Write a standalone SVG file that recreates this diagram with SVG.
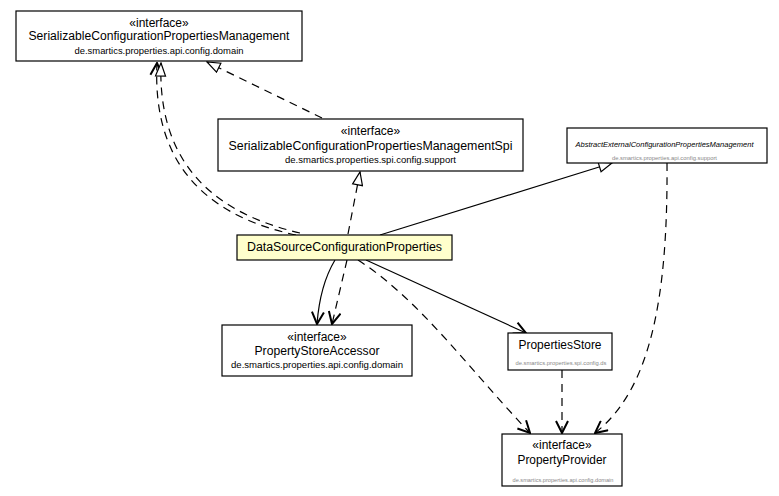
<svg xmlns="http://www.w3.org/2000/svg" width="779" height="496" viewBox="0 0 779 496">
<style>
.box{fill:#ffffff;stroke:#000;stroke-width:1.2}
.cls{fill:#ffffcc;stroke:#000;stroke-width:1.2}
.t{font-family:"Liberation Sans",Arial,sans-serif;font-size:12px;fill:#000;text-anchor:middle}
.p{font-family:"Liberation Sans",Arial,sans-serif;font-size:9px;fill:#000;text-anchor:middle}
.g{font-family:"Liberation Sans",Arial,sans-serif;font-size:5.5px;fill:#888;text-anchor:middle}
.i{font-family:"Liberation Sans",Arial,sans-serif;font-size:7.5px;font-style:italic;fill:#000;text-anchor:middle}
.c{fill:none;stroke:#000;stroke-width:1.2}
.d{stroke-dasharray:8,6}
</style>
<defs>
<marker id="tri" viewBox="0 0 15 12" refX="14" refY="6" markerWidth="15" markerHeight="12" markerUnits="userSpaceOnUse" orient="auto">
<path d="M1,1 L14,6 L1,11 Z" fill="#fff" stroke="#000" stroke-width="1.2"/>
</marker>
<marker id="arr" viewBox="0 0 14 14" refX="13" refY="7" markerWidth="14" markerHeight="14" markerUnits="userSpaceOnUse" orient="auto">
<path d="M1,1 L13,7 L1,13" fill="none" stroke="#000" stroke-width="2"/>
</marker>
</defs>
<g id="connectors">
<path class="c d" d="M322,118 L207,62" marker-end="url(#tri)"/>
<path class="c d" d="M296,235 Q150,204 157,63" marker-end="url(#arr)"/>
<path class="c d" d="M300,233 Q156,200 161,63" marker-end="url(#tri)"/>
<path class="c d" d="M348,234 L360,172" marker-end="url(#tri)"/>
<path class="c" d="M380,235 L612,163" marker-end="url(#tri)"/>
<path class="c" d="M335,260 Q320,285 317,324" marker-end="url(#arr)"/>
<path class="c d" d="M347,260 L332,324" marker-end="url(#arr)"/>
<path class="c" d="M366,260 L526,333" marker-end="url(#arr)"/>
<path class="c d" d="M358,260 C420,300 470,370 530,433" marker-end="url(#arr)"/>
<path class="c d" d="M562,370 L562,433" marker-end="url(#arr)"/>
<path class="c d" d="M667,163 C668,300 650,390 595,433" marker-end="url(#arr)"/>
</g>
<g id="SerializableConfigurationPropertiesManagement">
<rect class="box" x="16" y="11" width="286" height="50"/>
<text class="t" x="159" y="27">«interface»</text>
<text class="t" x="159" y="40" textLength="261" lengthAdjust="spacingAndGlyphs">SerializableConfigurationPropertiesManagement</text>
<text class="p" x="159" y="54" textLength="169" lengthAdjust="spacingAndGlyphs">de.smartics.properties.api.config.domain</text>
</g>
<g id="SerializableConfigurationPropertiesManagementSpi">
<rect class="box" x="218" y="119" width="305" height="52"/>
<text class="t" x="370.5" y="135">«interface»</text>
<text class="t" x="370.5" y="150" textLength="284" lengthAdjust="spacingAndGlyphs">SerializableConfigurationPropertiesManagementSpi</text>
<text class="p" x="370.5" y="163" textLength="171" lengthAdjust="spacingAndGlyphs">de.smartics.properties.spi.config.support</text>
</g>
<g id="AbstractExternalConfigurationPropertiesManagement">
<rect class="box" x="567" y="128" width="200" height="35"/>
<text class="i" x="664.5" y="146.5" textLength="178" lengthAdjust="spacingAndGlyphs">AbstractExternalConfigurationPropertiesManagement</text>
<text class="g" x="664.5" y="160" textLength="105" lengthAdjust="spacingAndGlyphs">de.smartics.properties.api.config.support</text>
</g>
<g id="DataSourceConfigurationProperties">
<rect class="cls" x="237" y="235" width="215" height="25"/>
<text class="t" x="344.5" y="251" textLength="195" lengthAdjust="spacingAndGlyphs">DataSourceConfigurationProperties</text>
</g>
<g id="PropertyStoreAccessor">
<rect class="box" x="222" y="325" width="190" height="51"/>
<text class="t" x="317" y="341">«interface»</text>
<text class="t" x="317" y="355" textLength="125" lengthAdjust="spacingAndGlyphs">PropertyStoreAccessor</text>
<text class="p" x="317" y="368" textLength="172" lengthAdjust="spacingAndGlyphs">de.smartics.properties.api.config.domain</text>
</g>
<g id="PropertiesStore">
<rect class="box" x="508" y="333" width="104" height="37"/>
<text class="t" x="560" y="349" textLength="83" lengthAdjust="spacingAndGlyphs">PropertiesStore</text>
<text class="g" x="561" y="365" textLength="91" lengthAdjust="spacingAndGlyphs">de.smartics.properties.spi.config.ds</text>
</g>
<g id="PropertyProvider">
<rect class="box" x="502" y="434" width="120" height="52"/>
<text class="t" x="562" y="449">«interface»</text>
<text class="t" x="562" y="464" textLength="89" lengthAdjust="spacingAndGlyphs">PropertyProvider</text>
<text class="g" x="563" y="482" textLength="101" lengthAdjust="spacingAndGlyphs">de.smartics.properties.api.config.domain</text>
</g>
</svg>
